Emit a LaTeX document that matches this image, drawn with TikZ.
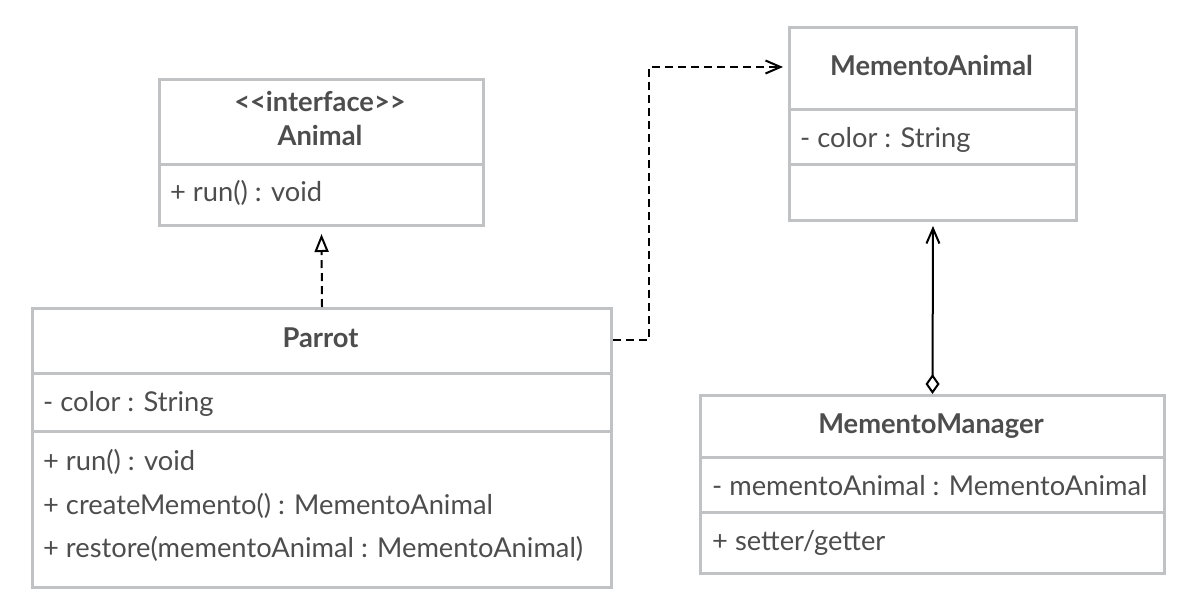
\documentclass[tikz,border=0pt]{standalone}
\usepackage{fontspec}
\setmainfont{Lato}
\usetikzlibrary{arrows.meta}
\definecolor{boxline}{HTML}{C0C2C3}
\definecolor{txt}{HTML}{4D4D4D}
\tikzset{
  umlbox/.style={draw=boxline, line width=3pt, inner sep=0pt, anchor=north west, fill=white},
  divider/.style={draw=boxline, line width=3pt},
  title/.style={text=txt, font=\fontsize{27.3}{31}\selectfont\bfseries, inner sep=0pt, anchor=mid, yshift=-5.5pt},
  member/.style={text=txt, font=\fontsize{27.3}{31}\selectfont, inner sep=0pt, anchor=mid west, yshift=-5.5pt},
  conn/.style={line width=2pt, black},
  dashedconn/.style={conn, dash pattern=on 8pt off 5pt},
  openarrow/.style={-{Straight Barb[length=15pt,width=13pt,line width=2pt]}},
}
\begin{document}
\begin{tikzpicture}[x=1pt,y=-1pt]
\useasboundingbox[fill=white] (0,0) rectangle (1186,608);
% Animal
\node[umlbox, minimum width=324pt, minimum height=146pt] (animal) at (158,78) {};
\draw[divider] (158,164) -- (482,164);
\node[title] (animalst) at (320,103) {<\kern0pt<interface>\kern0pt>};
\node[title] (animalt) at (320,137) {Animal};
\node[member] (animalm1) at (170,193) {+ run() : void};
% Parrot
\node[umlbox, minimum width=579pt, minimum height=279pt] (parrot) at (31,307) {};
\draw[divider] (31,373) -- (610,373);
\draw[divider] (31,431) -- (610,431);
\node[title] (parrott) at (320.5,339) {Parrot};
\node[member] (parrota1) at (43,403) {- color : String};
\node[member] (parrotm1) at (43,462) {+ run() : void};
\node[member] (parrotm2) at (43,506) {+ createMemento() : MementoAnimal};
\node[member] (parrotm3) at (43,549) {+ restore(mementoAnimal : MementoAnimal)};
% MementoAnimal
\node[umlbox, minimum width=287pt, minimum height=193pt] (manimal) at (788,26) {};
\draw[divider] (788,109) -- (1075,109);
\draw[divider] (788,164) -- (1075,164);
\node[title] (manimalt) at (931.5,67) {MementoAnimal};
\node[member] (manimala1) at (800,139) {- color : String};
% MementoManager
\node[umlbox, minimum width=464pt, minimum height=178pt] (mmanager) at (699,394) {};
\draw[divider] (699,457) -- (1163,457);
\draw[divider] (699,512) -- (1163,512);
\node[title] (mmanagert) at (931,425) {MementoManager};
\node[member] (mmanagera1) at (712,487) {- mementoAnimal : MementoAnimal};
\node[member] (mmanagerm1) at (712,542) {+ setter/getter};
% connectors
\coordinate (animaltip) at ([yshift=-7pt]animal.south);
\draw[dashedconn, -{Triangle[open,length=18pt,width=14pt,line width=2pt]}] (parrot.north) -- (animaltip);
\coordinate (parrotr) at ([yshift=-33pt]parrot.north east);
\coordinate (manimaltip) at ([xshift=-5pt,yshift=-41pt]manimal.north west);
\draw[dashedconn, openarrow] (parrotr) -- ++(36,0) |- (manimaltip);
\coordinate (manimalbot) at ([yshift=-4pt]manimal.south);
\draw[conn, {Diamond[open,length=20pt,width=14pt,line width=2pt]}-{Straight Barb[length=15pt,width=13pt,line width=2pt]}] (mmanager.north) -- (manimalbot);
\end{tikzpicture}
\end{document}
